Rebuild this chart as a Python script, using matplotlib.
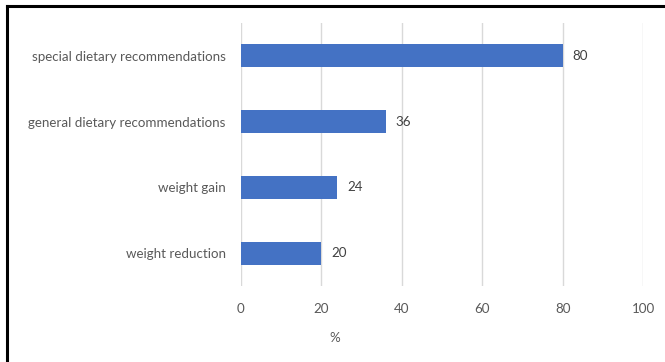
import matplotlib.pyplot as plt
from matplotlib.lines import Line2D

categories = ['weight reduction', 'weight gain',
              'general dietary recommendations', 'special dietary recommendations']
values = [20, 24, 36, 80]
x_ticks = [0, 20, 40, 60, 80, 100]

plt.rcParams['font.family'] = ['Lato', 'DejaVu Sans']
TEXT = '#595959'

fig = plt.figure(figsize=(6.65, 3.62), dpi=100)
ax = fig.add_axes([0.3624, 0.21, 0.6046, 0.7265])

bars = ax.barh(categories, values, height=0.35, color='#4472C4', zorder=3)
ax.bar_label(bars, padding=7, fontsize=9.6, color='#404040')

ax.set_xlim(0, 100)
ax.set_ylim(-0.5, 3.5)
ax.set_xticks(x_ticks)
ax.grid(axis='x', color='#d9d9d9', lw=1, zorder=0)
for s in ax.spines.values():
    s.set_visible(False)
ax.tick_params(axis='both', length=0, labelcolor=TEXT, labelsize=9.6)
ax.tick_params(axis='x', pad=12)
ax.tick_params(axis='y', pad=11)

fig.text(335 / 665, 1 - 338 / 362, '%', ha='center', va='center', color=TEXT, fontsize=9.6)

# frame lines on top and left edges
fig.add_artist(Line2D([7 / 665, 1], [1 - 6 / 362, 1 - 6 / 362], color='black', lw=2.2,
                      transform=fig.transFigure))
fig.add_artist(Line2D([7 / 665, 7 / 665], [0, 1 - 6 / 362], color='black', lw=2.2,
                      transform=fig.transFigure))

fig.savefig('out.png', dpi=100)
